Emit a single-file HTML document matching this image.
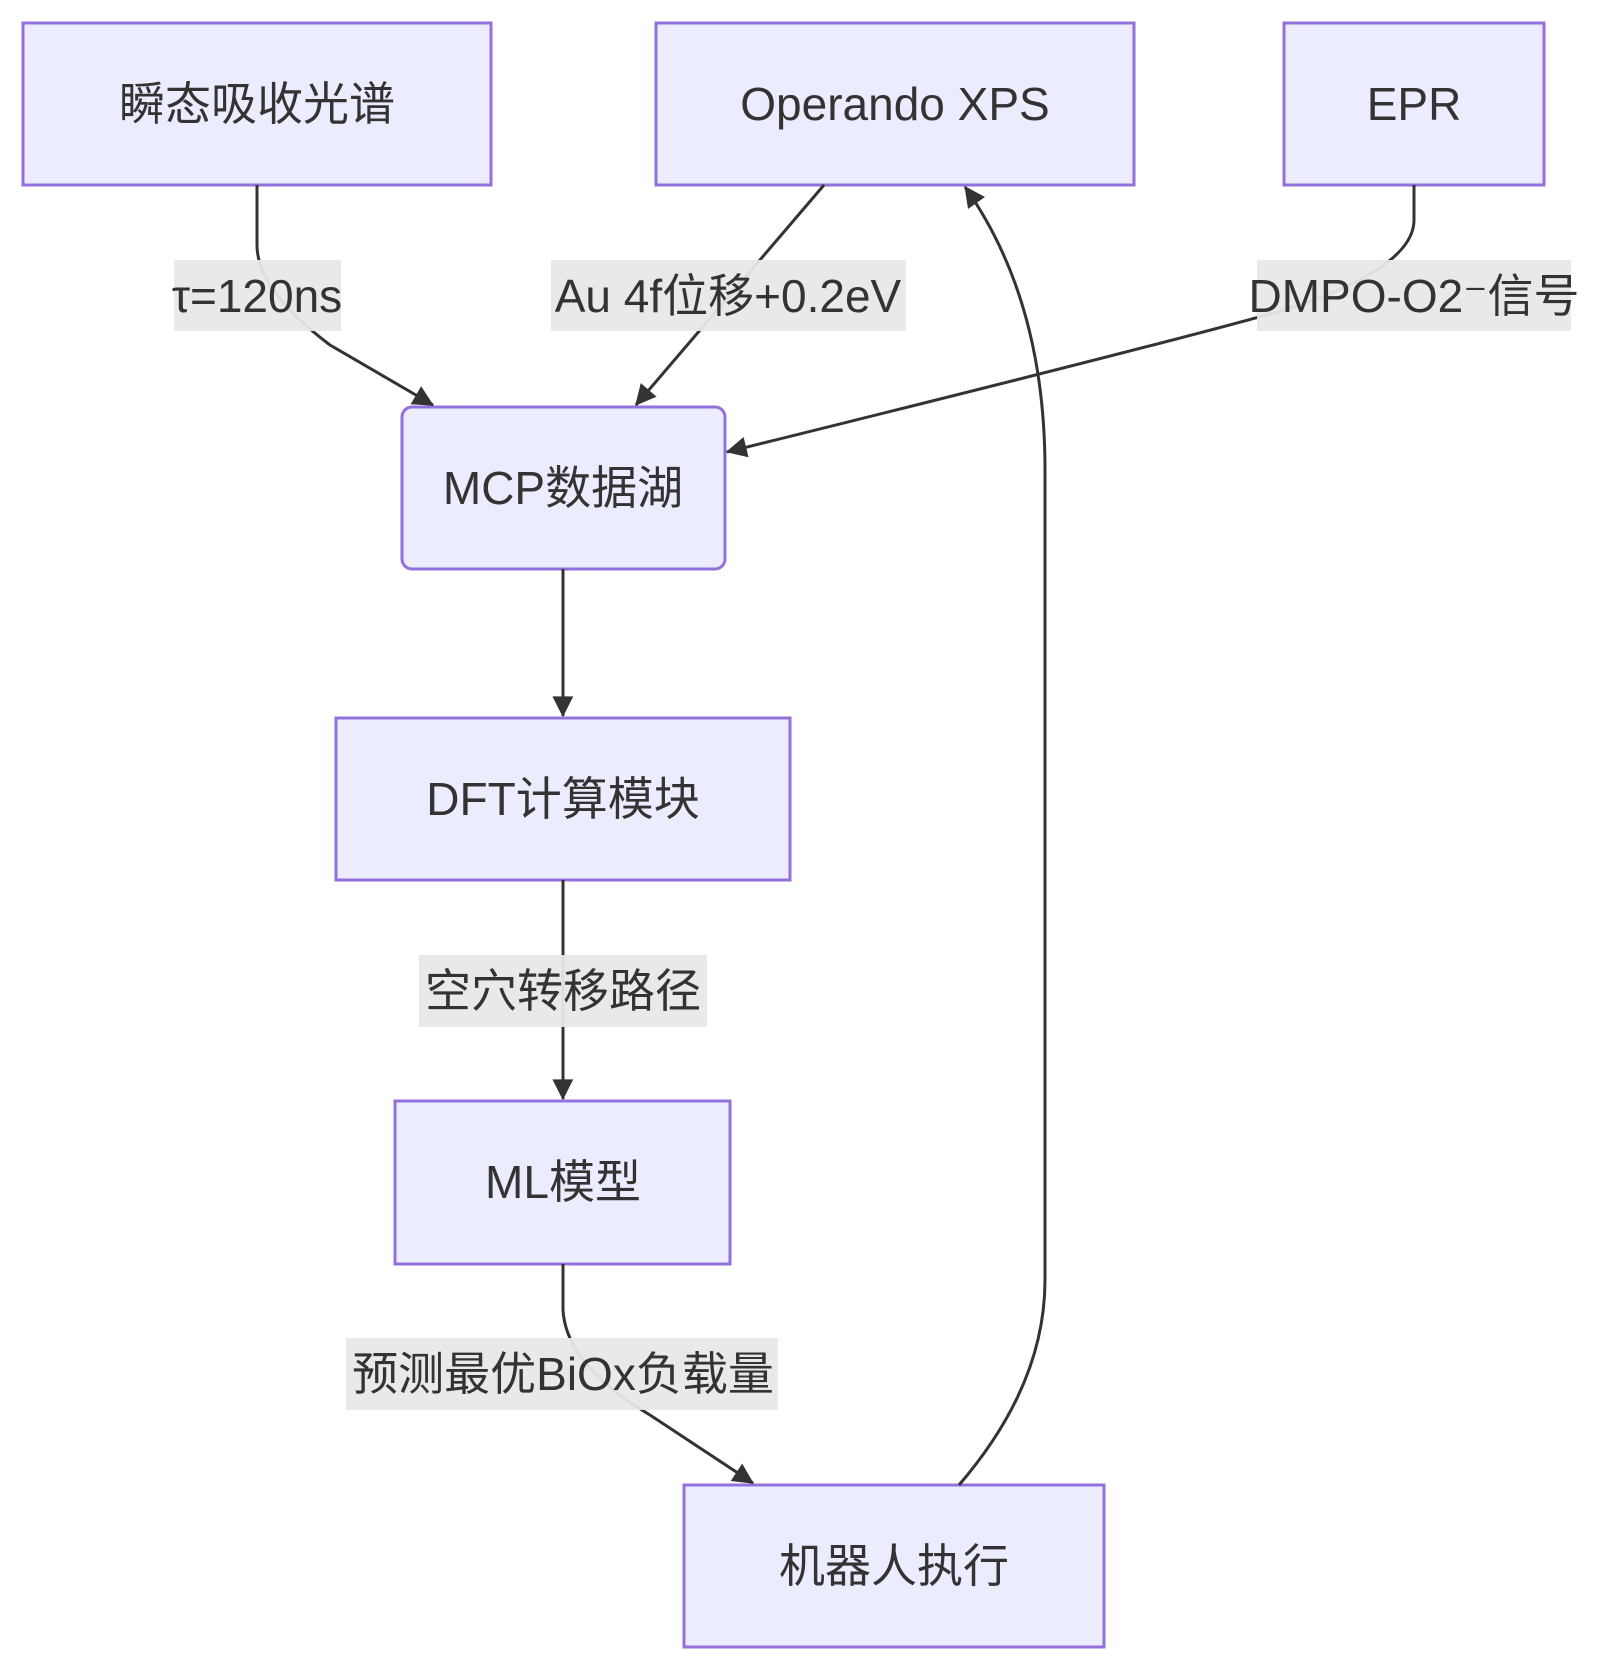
<!DOCTYPE html>
<html><head><meta charset="utf-8"><style>
html,body{margin:0;padding:0;background:#fff;}
svg{display:block;}
text{font-family:"Liberation Sans","Noto Sans CJK SC",sans-serif;font-size:46px;fill:#333;}
</style></head><body>
<svg width="1597" height="1674" viewBox="0 0 1597 1674" xmlns="http://www.w3.org/2000/svg">
<defs>
<marker id="a" viewBox="0 0 10 10" refX="9" refY="5" markerWidth="8" markerHeight="8" markerUnits="userSpaceOnUse" orient="auto" style="overflow:visible">
<path d="M0,0 L10,5 L0,10 z" fill="#333" transform="scale(2.6) translate(-6,-3)"/>
</marker>
</defs>
<g fill="#ececff" stroke="#9370db" stroke-width="3">
<rect x="23" y="23" width="468" height="162"/>
<rect x="656" y="23" width="478" height="162"/>
<rect x="1284" y="23" width="260" height="162"/>
<rect x="402" y="407" width="323" height="162" rx="10"/>
<rect x="336" y="718" width="454" height="162"/>
<rect x="395" y="1101" width="335" height="163"/>
<rect x="684" y="1485" width="420" height="162"/>
</g>
<g fill="none" stroke="#333" stroke-width="3">
<path d="M257,185 L257,245 Q257,290 330,345 L433,405" marker-end="url(#a)"/>
<path d="M824,185 L636,405" marker-end="url(#a)"/>
<path d="M1414,185 L1414,220 Q1414,265 1300,305 Q1240,325 727,452" marker-end="url(#a)"/>
<path d="M563,569 L563,716" marker-end="url(#a)"/>
<path d="M563,880 L563,1099" marker-end="url(#a)"/>
<path d="M563,1264 L563,1310 Q566,1365 650,1415 L753,1483" marker-end="url(#a)"/>
<path d="M959,1485 Q1045,1385 1045,1280 L1045,470 Q1045,300 965,187" marker-end="url(#a)"/>
</g>
<g fill="#e8e8e8" opacity="0.95">
<rect x="174" y="260" width="167" height="71"/>
<rect x="551" y="260" width="355" height="71"/>
<rect x="1257" y="260" width="314" height="71"/>
<rect x="419" y="955" width="288" height="72"/>
<rect x="346" y="1338" width="432" height="72"/>
</g>
<g text-anchor="middle" dominant-baseline="central">
<text x="257" y="104">瞬态吸收光谱</text>
<text x="895" y="104">Operando XPS</text>
<text x="1414" y="104">EPR</text>
<text x="563" y="488">MCP数据湖</text>
<text x="563" y="799">DFT计算模块</text>
<text x="563" y="1182">ML模型</text>
<text x="894" y="1566">机器人执行</text>
<text x="257" y="296">τ=120ns</text>
<text x="728" y="296">Au 4f位移+0.2eV</text>
<text x="1414" y="296">DMPO-O2⁻信号</text>
<text x="563" y="991">空穴转移路径</text>
<text x="563" y="1374">预测最优BiOx负载量</text>
</g>
</svg>
</body></html>
